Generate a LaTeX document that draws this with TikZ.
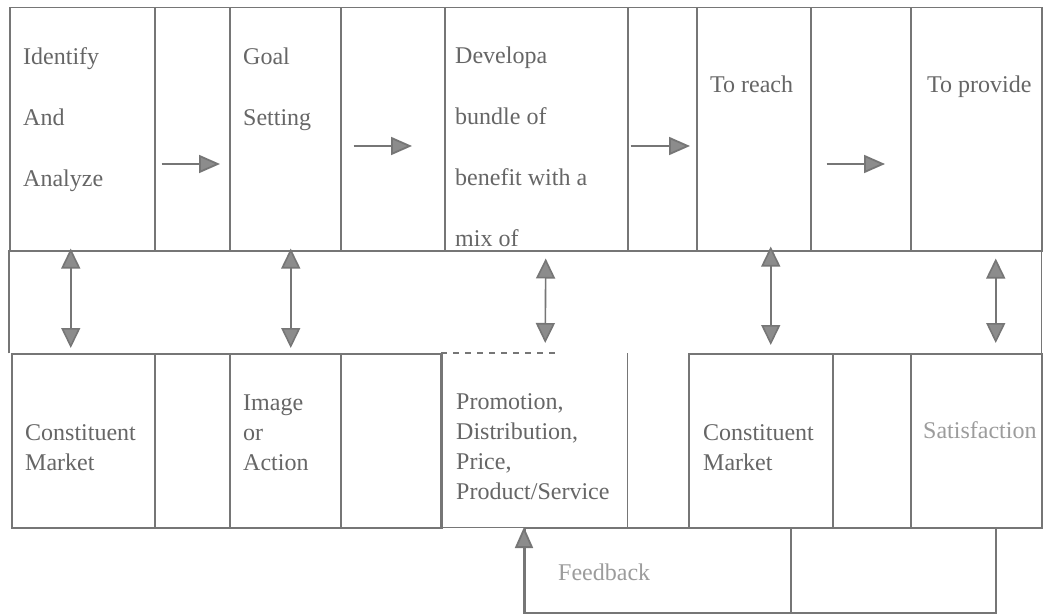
\documentclass[tikz,border=0pt]{standalone}
\usepackage{fontspec}
\setmainfont{Liberation Serif}
\usetikzlibrary{arrows.meta}
\definecolor{rule}{HTML}{767676}
\definecolor{ink}{HTML}{666666}
\definecolor{paleink}{HTML}{9C9C9C}
\definecolor{tipfill}{HTML}{8C8C8C}
\begin{document}
\begin{tikzpicture}[x=1pt,y=-1pt,
  cell/.style={draw=rule, line width=1.5pt, rectangle, anchor=north west, inner sep=0pt},
  opencell/.style={rectangle, anchor=north west, inner sep=0pt},
  edge/.style={draw=rule, line width=1.5pt},
  % multi-line texts are placed by the baseline of their last line
  toptext/.style={anchor=base west, align=left, text=ink, inner sep=0pt, font=\fontsize{24}{61}\selectfont},
  lowtext/.style={anchor=base west, align=left, text=ink, inner sep=0pt, font=\fontsize{24}{30}\selectfont},
  flow/.style={draw=rule, line width=1.8pt, -{Triangle[length=21pt,width=18pt,fill=tipfill]}},
  link/.style={draw=rule, line width=1.6pt,
    {Triangle[length=20pt,width=19pt,fill=tipfill]}-{Triangle[length=20pt,width=19pt,fill=tipfill]}},
]
\useasboundingbox (0,0) rectangle (1045,615);
\fill[white] (0,0) rectangle (1045,615);

% upper row of steps
\node[cell, minimum width=145pt, minimum height=243pt] (identify) at (9,7) {};
\node[cell, minimum width=75pt,  minimum height=243pt] (gapA) at (154,7) {};
\node[cell, minimum width=111pt, minimum height=243pt] (goal) at (229,7) {};
\node[cell, minimum width=104pt, minimum height=243pt] (gapB) at (340,7) {};
\node[cell, minimum width=183pt, minimum height=243pt] (develop) at (444,7) {};
\node[cell, minimum width=69pt,  minimum height=243pt] (gapC) at (627,7) {};
\node[cell, minimum width=114pt, minimum height=243pt] (reach) at (696,7) {};
\node[cell, minimum width=100pt, minimum height=243pt] (gapD) at (810,7) {};
\node[cell, minimum width=131pt, minimum height=243pt] (provide) at (910,7) {};

% middle band
\node[opencell, minimum width=1032pt, minimum height=103pt] (band) at (9,250) {};
\draw[edge] (band.south west) -- (band.north west);
\draw[edge] (band.north east) -- (band.south east);

% lower row of outcomes
\node[cell, minimum width=143pt, minimum height=174pt] (market) at (11,353) {};
\node[cell, minimum width=75pt,  minimum height=174pt] (gapE) at (154,353) {};
\node[cell, minimum width=111pt, minimum height=174pt] (image) at (229,353) {};
\node[cell, minimum width=101pt, minimum height=174pt] (gapF) at (340,353) {};
\node[opencell, minimum width=186pt, minimum height=174pt] (mix) at (441,353) {};
\node[opencell, minimum width=61pt,  minimum height=174pt] (gapG) at (627,353) {};
\node[cell, minimum width=144pt, minimum height=174pt] (market2) at (688,353) {};
\node[cell, minimum width=78pt,  minimum height=174pt] (gapH) at (832,353) {};
\node[cell, minimum width=131pt, minimum height=174pt] (satisfy) at (910,353) {};
\draw[edge] (mix.north west) -- (mix.south west) -- (mix.south east) -- (mix.north east);
\draw[edge] (gapG.south west) -- (gapG.south east);
\draw[edge, dash pattern=on 6pt off 6pt] (mix.north west) -- ([xshift=-70pt]mix.north east);

% feedback strip
\node[cell, minimum width=266pt, minimum height=85pt] (feedback) at (524,527) {};
\node[cell, minimum width=205pt, minimum height=85pt] (feedbackR) at (790,527) {};

% texts
\node[toptext] (tIdentify) at (23,186) {Identify\\And\\Analyze};
\node[toptext] (tGoal) at (243,126) {Goal\\Setting};
\node[toptext] (tDevelop) at (455,246) {Developa\\bundle of\\benefit with a\\mix of};
\node[toptext] (tReach) at (710,93) {To reach};
\node[toptext] (tProvide) at (927,93) {To provide};

\node[lowtext] (tMarket) at (25,470) {Constituent\\Market};
\node[lowtext] (tImage) at (243,470) {Image\\or\\Action};
\node[lowtext] (tMix) at (456,499) {Promotion,\\Distribution,\\Price,\\Product/Service};
\node[lowtext] (tMarket2) at (703,470) {Constituent\\Market};
\node[lowtext, text=paleink] (tSatisfy) at (923,438) {Satisfaction};
\node[lowtext, text=paleink] (tFeedback) at (558,580) {Feedback};

% flow between steps
\draw[flow] ([shift={(6,157)}]identify.north east) -- ([shift={(-9,157)}]goal.north west);
\draw[flow] ([shift={(12,139)}]goal.north east) -- ([shift={(-32,139)}]develop.north west);
\draw[flow] ([shift={(2,139)}]develop.north east) -- ([shift={(-6,139)}]reach.north west);
\draw[flow] ([shift={(15,157)}]reach.north east) -- ([shift={(-25,157)}]provide.north west);

% links between steps and outcomes
\draw[link, shorten <=-3pt, shorten >=5pt] ([xshift=-11.5pt]identify.south) -- ([xshift=-12.5pt]market.north);
\draw[link, shorten <=-3pt, shorten >=5pt] ([xshift=5.5pt]goal.south) -- ([xshift=5.5pt]image.north);
\draw[link, shorten <=7pt, shorten >=10pt] ([xshift=9.5pt]develop.south) -- ([xshift=11pt]mix.north);
\draw[link, shorten <=-5pt, shorten >=8pt] ([xshift=17pt]reach.south) -- ([xshift=10pt]market2.north);
\draw[link, shorten <=7pt, shorten >=10pt] ([xshift=19.5pt]provide.south) -- ([xshift=19.5pt]satisfy.north);

% feedback into the mix
\draw[flow] (feedback.south west) -- (feedback.north west);
\end{tikzpicture}
\end{document}
